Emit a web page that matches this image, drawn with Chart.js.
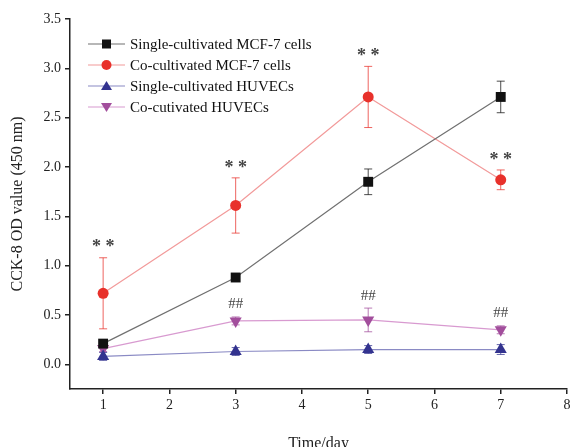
<!DOCTYPE html>
<html>
<head>
<meta charset="utf-8">
<script src="https://cdn.jsdelivr.net/npm/chart.js@4/dist/chart.umd.min.js"></script>
<style>
  html, body { margin: 0; padding: 0; background: #fff; }
  #wrap { width: 574px; height: 447px; }
</style>
</head>
<body>
<div id="wrap"><canvas id="cck8"></canvas></div>
<script>
// days and series values
const days = [1, 3, 5, 7];
const seriesNames = ['Single-cultivated MCF-7 cells', 'Co-cultivated MCF-7 cells', 'Single-cultivated HUVECs', 'Co-cutivated HUVECs'];
const singleMcf7 = [0.21, 0.88, 1.85, 2.71];
const coMcf7 = [0.72, 1.61, 2.71, 1.87];
const singleHuvec = [0.08, 0.13, 0.15, 0.15];
const coHuvec = [0.16, 0.44, 0.45, 0.35];
// error (SD) values
const singleMcf7Err = [0.03, 0.03, 0.13, 0.16];
const coMcf7Err = [0.36, 0.28, 0.31, 0.10];
const singleHuvecErr = [0.04, 0.04, 0.04, 0.05];
const coHuvecErr = [0.03, 0.04, 0.12, 0.04];
// significance marks
const starMarks = ['* *', '* *', '* *', '* *'];
const hashMarks = ['', '##', '##', '##'];
const xTicks = [1, 2, 3, 4, 5, 6, 7, 8];
const yTicks = [0, 0.5, 1, 1.5, 2, 2.5, 3, 3.5];

const serif = '"Liberation Serif", "DejaVu Serif", serif';

function pts(vals) {
    return days.map((d, i) => ({ x: d, y: vals[i] }));
}

const datasets = [
    { label: seriesNames[0], data: pts(singleMcf7), err: singleMcf7Err, borderColor: '#707070', backgroundColor: '#111', pointStyle: 'rect', pointRadius: 7 },
    { label: seriesNames[1], data: pts(coMcf7), err: coMcf7Err, borderColor: '#f29a9a', backgroundColor: '#e8312b', pointStyle: 'circle', pointRadius: 5.5, marks: starMarks },
    { label: seriesNames[2], data: pts(singleHuvec), err: singleHuvecErr, borderColor: '#8a8ac4', backgroundColor: '#33338f', pointStyle: 'triangle', pointRadius: 7 },
    { label: seriesNames[3], data: pts(coHuvec), err: coHuvecErr, borderColor: '#d89ad0', backgroundColor: '#a24e9c', pointStyle: 'triangle', pointRotation: 180, pointRadius: 7, marks: hashMarks }
].map(ds => Object.assign({
    borderWidth: 1.2,
    pointBorderWidth: 0,
    pointBorderColor: ds.backgroundColor,
    tension: 0,
    fill: false
}, ds, { pointBackgroundColor: ds.backgroundColor }));

// error bars + significance text
const errorBars = {
    id: 'errorBars',
    beforeDatasetsDraw(chart) {
        const ctx = chart.ctx;
        const xs = chart.scales.x, ys = chart.scales.y;
        ctx.save();
        chart.data.datasets.forEach(ds => {
            ctx.strokeStyle = ds.backgroundColor;
            ctx.globalAlpha = 0.75;
            ctx.lineWidth = 1;
            ds.data.forEach((p, i) => {
                const e = ds.err[i];
                const px = xs.getPixelForValue(p.x);
                const top = ys.getPixelForValue(p.y + e);
                const bot = ys.getPixelForValue(p.y - e);
                ctx.beginPath();
                ctx.moveTo(px, top); ctx.lineTo(px, bot);
                ctx.moveTo(px - 4, top); ctx.lineTo(px + 4, top);
                ctx.moveTo(px - 4, bot); ctx.lineTo(px + 4, bot);
                ctx.stroke();
            });
        });
        ctx.restore();
    },
    afterDatasetsDraw(chart) {
        const ctx = chart.ctx;
        const xs = chart.scales.x, ys = chart.scales.y;
        ctx.save();
        ctx.fillStyle = '#444';
        ctx.textAlign = 'center';
        chart.data.datasets.forEach(ds => {
            if (!ds.marks) return;
            ds.data.forEach((p, i) => {
                if (!ds.marks[i]) return;
                const px = xs.getPixelForValue(p.x);
                const top = ys.getPixelForValue(p.y + ds.err[i]);
                if (ds.marks[i].indexOf('*') >= 0) {
                    ctx.font = 'bold 18px ' + serif;
                    ctx.textBaseline = 'top';
                    ctx.fillText(ds.marks[i], px, top - 19);
                } else {
                    ctx.font = '15px ' + serif;
                    ctx.textBaseline = 'bottom';
                    ctx.fillText(ds.marks[i], px, top - 5);
                }
            });
        });

        // legend, drawn inside the plot area
        const area = chart.chartArea;
        ctx.font = '15px ' + serif;
        ctx.textAlign = 'left';
        ctx.textBaseline = 'middle';
        chart.data.datasets.forEach((ds, i) => {
            const y = area.top + 25 + i * 21;
            const x0 = area.left + 18;
            ctx.strokeStyle = ds.borderColor;
            ctx.lineWidth = 1.2;
            ctx.beginPath();
            ctx.moveTo(x0, y); ctx.lineTo(x0 + 37, y);
            ctx.stroke();
            ctx.fillStyle = ds.backgroundColor;
            const cx = x0 + 18.5;
            ctx.beginPath();
            if (ds.pointStyle === 'rect') {
                ctx.rect(cx - 4.5, y - 4.5, 9, 9);
            } else if (ds.pointStyle === 'circle') {
                ctx.arc(cx, y, 5, 0, Math.PI * 2);
            } else if (ds.pointRotation === 180) {
                ctx.moveTo(cx - 5.5, y - 4); ctx.lineTo(cx + 5.5, y - 4); ctx.lineTo(cx, y + 5);
            } else {
                ctx.moveTo(cx - 5.5, y + 4); ctx.lineTo(cx + 5.5, y + 4); ctx.lineTo(cx, y - 5);
            }
            ctx.closePath();
            ctx.fill();
            ctx.fillStyle = '#111';
            ctx.fillText(ds.label, x0 + 42, y + 1);
        });
        ctx.restore();
    }
};

new Chart(document.getElementById('cck8'), {
    type: 'line',
    data: { datasets: datasets },
    options: {
        responsive: true,
        maintainAspectRatio: false,
        animation: false,
        layout: { padding: { top: 19, right: 6, left: 4, bottom: 0 } },
        plugins: { legend: { display: false }, tooltip: { enabled: false } },
        scales: {
            x: {
                type: 'linear',
                min: 0.5,
                max: 8,
                afterBuildTicks: s => { s.ticks = xTicks.map(v => ({ value: v })); },
                afterFit: s => { s.height = 58; },
                border: { display: true, color: '#222', width: 1.5 },
                grid: { drawOnChartArea: false, drawTicks: true, tickLength: 5, color: '#222', lineWidth: 1.5 },
                ticks: { color: '#222', font: { family: serif, size: 14 }, padding: 3 },
                title: { display: true, text: 'Time/day', color: '#222', font: { family: serif, size: 16 }, padding: { top: 17, bottom: -6 } }
            },
            y: {
                type: 'linear',
                min: -0.25,
                max: 3.5,
                afterBuildTicks: s => { s.ticks = yTicks.map(v => ({ value: v })); },
                afterFit: s => { s.width = 66; },
                border: { display: true, color: '#222', width: 1.5 },
                grid: { drawOnChartArea: false, drawTicks: true, tickLength: 5, color: '#222', lineWidth: 1.5 },
                ticks: { color: '#222', font: { family: serif, size: 14 }, padding: 4, callback: v => v.toFixed(1) },
                title: { display: true, text: 'CCK-8 OD value (450 nm)', color: '#222', font: { family: serif, size: 16 }, padding: { bottom: 4 } }
            }
        }
    },
    plugins: [errorBars]
});
</script>
</body>
</html>
